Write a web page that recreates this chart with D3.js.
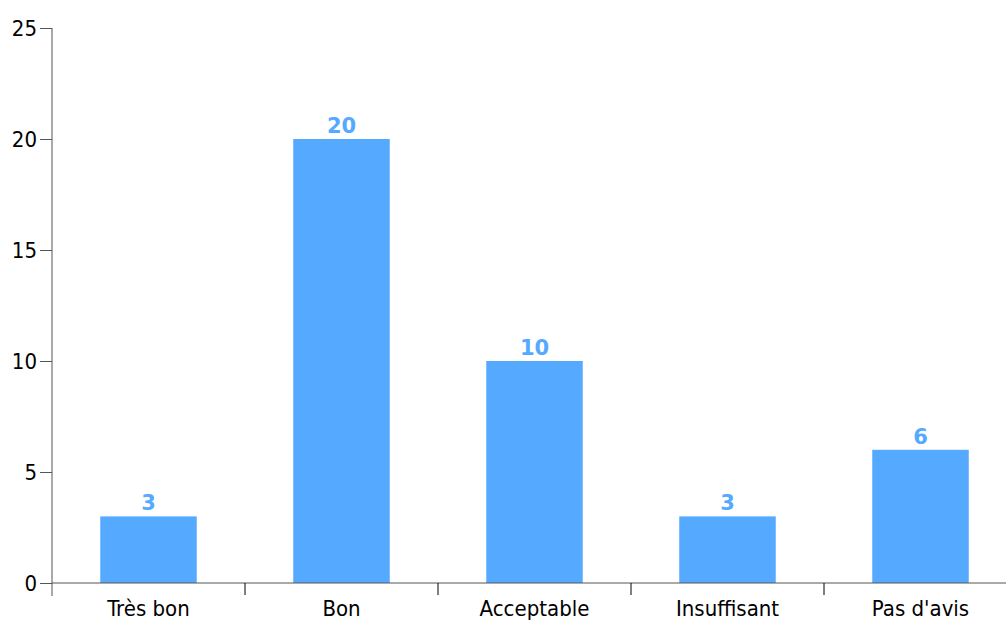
<!DOCTYPE html>
<html><head><meta charset="utf-8">
<script src="https://cdn.jsdelivr.net/npm/d3@7"></script>
<style>
body{margin:0;background:#fff;}
svg{display:block;font-family:"DejaVu Sans Condensed","DejaVu Sans",sans-serif;}
</style></head>
<body><svg id="c" width="1006" height="621"></svg>
<script>
const categories = ["Très bon","Bon","Acceptable","Insuffisant","Pas d'avis"];
const values = [3,20,10,3,6];
const yTicks = [0,5,10,15,20,25];

const svg = d3.select("#c");
const x0 = 52, yBase = 583, yTop = 28;
const x = d3.scaleBand().domain(categories).range([x0, x0 + 965]).paddingInner(0).paddingOuter(0);
const y = d3.scaleLinear().domain([0,25]).range([yBase, yTop]);
const color = "#55aaff";
const axisColor = "#555";

// bars
const bw = x.bandwidth() * 0.5;
svg.append("g").selectAll("rect").data(values).join("rect")
  .attr("x", (d,i) => x(categories[i]) + (x.bandwidth()-bw)/2)
  .attr("y", d => y(d))
  .attr("width", bw)
  .attr("height", d => yBase - y(d))
  .attr("fill", color);

// labels
svg.append("g").selectAll("text").data(values).join("text")
  .attr("x", (d,i) => x(categories[i]) + x.bandwidth()/2)
  .attr("y", d => y(d) - 6)
  .attr("text-anchor","middle")
  .attr("font-weight","bold")
  .attr("font-family","DejaVu Sans")
  .attr("font-size", 21)
  .attr("fill", color)
  .text(d => d);

// y axis
const ya = svg.append("g").attr("transform",`translate(${x0},0)`)
  .call(d3.axisLeft(y).tickValues(yTicks).tickSize(12).tickPadding(3));
ya.select(".domain").remove();
ya.append("line").attr("x1",0).attr("x2",0).attr("y1",yTop).attr("y2",yBase+13).attr("stroke",axisColor);
ya.selectAll(".tick line").attr("stroke",axisColor);
ya.selectAll(".tick text").attr("font-size",22).attr("fill","#000").attr("font-family","DejaVu Sans Condensed, DejaVu Sans");

// x axis
const xa = svg.append("g").attr("transform",`translate(0,${yBase})`);
xa.append("line").attr("x1",x0).attr("x2",1006).attr("y1",0).attr("y2",0).attr("stroke",axisColor);
xa.selectAll("line.t").data(categories.slice(1)).join("line").attr("class","t")
  .attr("x1", d => x(d)).attr("x2", d => x(d)).attr("y1",0).attr("y2",12).attr("stroke","#000");
xa.selectAll("text").data(categories).join("text")
  .attr("x", d => x(d) + x.bandwidth()/2)
  .attr("y", 33)
  .attr("text-anchor","middle")
  .attr("font-size",22)
  .attr("fill","#000")
  .text(d => d);
</script></body></html>
